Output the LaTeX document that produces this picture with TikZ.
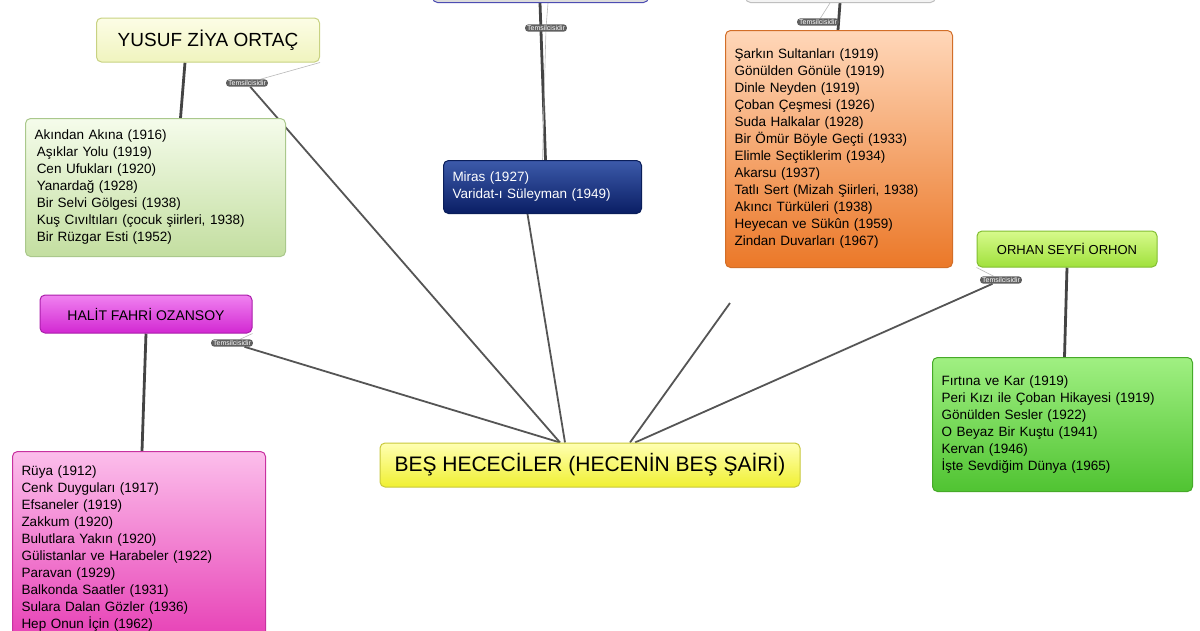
\documentclass[tikz,border=0pt]{standalone}
\usepackage{fontspec}
\setmainfont{Liberation Sans}
\usetikzlibrary{backgrounds}
\definecolor{conn}{HTML}{555555}
\definecolor{thk}{HTML}{444444}
\tikzset{
 box/.style={draw, rounded corners=5pt, line width=1pt, anchor=north west, align=left, inner xsep=9pt, inner ysep=8pt},
 works/.style={box, font=\fontsize{13.5}{17}\selectfont},
 poet/.style={box, align=center, anchor=center},
 conn/.style={draw=conn, line width=1.8pt},
 thk/.style={draw=thk, line width=2.8pt},
 faint/.style={draw=gray!55, line width=0.6pt},
 tag/.style={fill=gray!75!black, text=white, rounded corners=3pt, inner xsep=2pt, inner ysep=1pt, font=\fontsize{7}{8}\selectfont},
}
\begin{document}
\begin{tikzpicture}[x=1pt,y=-1pt]
\useasboundingbox (0,0) rectangle (1200,630);
\clip (0,0) rectangle (1200,630);
% cut-off top nodes
\node[box, minimum width=216pt, minimum height=30pt, top color=white, bottom color=gray!30, draw=gray!60!blue] (topc) at (432,-28) {};
\node[box, minimum width=190pt, minimum height=30pt, top color=white, bottom color=gray!10, draw=gray!50] (topr) at (745,-28) {};
% main
\node[poet, minimum width=420pt, minimum height=44pt, top color=yellow!30, bottom color={rgb,255:red,240;green,240;blue,50}, draw={rgb,255:red,200;green,200;blue,60}, font=\fontsize{21}{24}\selectfont] (main) at (590,465) {BEŞ HECECİLER (HECENİN BEŞ ŞAİRİ)};
% poets
\node[poet, minimum width=223pt, minimum height=44pt, top color={rgb,255:red,252;green,253;blue,230}, bottom color={rgb,255:red,240;green,244;blue,190}, draw={rgb,255:red,200;green,210;blue,130}, font=\fontsize{19}{22}\selectfont] (yusuf) at (208,40) {YUSUF ZİYA ORTAÇ};
\node[poet, minimum width=212pt, minimum height=38pt, top color={rgb,255:red,240;green,130;blue,240}, bottom color={rgb,255:red,210;green,40;blue,210}, draw={rgb,255:red,170;green,30;blue,170}, font=\fontsize{14}{17}\selectfont] (halit) at (146,314) {HALİT FAHRİ OZANSOY};
\node[poet, minimum width=180pt, minimum height=36pt, top color={rgb,255:red,215;green,250;blue,140}, bottom color={rgb,255:red,160;green,225;blue,60}, draw={rgb,255:red,130;green,190;blue,50}, font=\fontsize{13}{16}\selectfont] (orhan) at (1067,249) {ORHAN SEYFİ ORHON};
% works
\node[works, text width=242pt, minimum height=138pt, top color={rgb,255:red,245;green,252;blue,235}, bottom color={rgb,255:red,195;green,222;blue,160}, draw={rgb,255:red,170;green,200;blue,140}] (ywork) at (25,118) {Akından Akına (1916)\\ \,Aşıklar Yolu (1919)\\ \,Cen Ufukları (1920)\\ \,Yanardağ (1928)\\ \,Bir Selvi Gölgesi (1938)\\ \,Kuş Cıvıltıları (çocuk şiirleri, 1938)\\ \,Bir Rüzgar Esti (1952)};
\node[works, text width=235pt, minimum height=195pt, top color={rgb,255:red,252;green,190;blue,235}, bottom color={rgb,255:red,230;green,60;blue,180}, draw={rgb,255:red,200;green,50;blue,160}] (hwork) at (12,451) {Rüya (1912)\\Cenk Duyguları (1917)\\Efsaneler (1919)\\Zakkum (1920)\\Bulutlara Yakın (1920)\\Gülistanlar ve Harabeler (1922)\\Paravan (1929)\\Balkonda Saatler (1931)\\Sulara Dalan Gözler (1936)\\Hep Onun İçin (1962)\\ };
\node[works, text width=180pt, minimum height=53pt, top color={rgb,255:red,60;green,90;blue,170}, bottom color={rgb,255:red,10;green,30;blue,100}, draw={rgb,255:red,10;green,30;blue,90}, text=white] (miras) at (443,160) {Miras (1927)\\Varidat-ı Süleyman (1949)};
\node[works, text width=209pt, minimum height=237pt, top color={rgb,255:red,255;green,215;blue,185}, bottom color={rgb,255:red,235;green,120;blue,40}, draw={rgb,255:red,210;green,110;blue,40}] (orange) at (725,30) {Şarkın Sultanları (1919)\\Gönülden Gönüle (1919)\\Dinle Neyden (1919)\\Çoban Çeşmesi (1926)\\Suda Halkalar (1928)\\Bir Ömür Böyle Geçti (1933)\\Elimle Seçtiklerim (1934)\\Akarsu (1937)\\Tatlı Sert (Mizah Şiirleri, 1938)\\Akıncı Türküleri (1938)\\Heyecan ve Sükûn (1959)\\Zindan Duvarları (1967)\\[4pt]};
\node[works, text width=242pt, minimum height=134pt, top color={rgb,255:red,160;green,240;blue,130}, bottom color={rgb,255:red,80;green,195;blue,50}, draw={rgb,255:red,70;green,170;blue,40}] (owork) at (932,357) {Fırtına ve Kar (1919)\\Peri Kızı ile Çoban Hikayesi (1919)\\Gönülden Sesler (1922)\\O Beyaz Bir Kuştu (1941)\\Kervan (1946)\\İşte Sevdiğim Dünya (1965)\\[4pt]};
% tags
\node[tag] (t1) at (247,83) {Temsilcisidir};
\node[tag] (t2) at (232,343) {Temsilcisidir};
\node[tag] (t3) at (546,28) {Temsilcisidir};
\node[tag] (t4) at (818,22) {Temsilcisidir};
\node[tag] (t5) at (1001,280) {Temsilcisidir};
\begin{scope}[on background layer]
\fill[white] (0,0) rectangle (1200,630);
% thick poet-to-works
\path[thk] ([xshift=-23pt]yusuf.south) -- ([xshift=25pt]ywork.north);
\path[thk] (halit.south) -- ([xshift=3pt]hwork.north);
\path[thk] (orhan.south) -- ([xshift=2pt]owork.north);
\path[thk] ([xshift=108pt]topc.south west) -- ([xshift=3pt]miras.north);
\path[thk] ([xshift=95pt]topr.south west) -- ([xshift=113pt]orange.north west);
% main to poets
\path[conn] ([xshift=-25pt]main.north) -- ([xshift=-15pt]miras.south);
\path[conn] ([xshift=40pt]main.north) -- ([xshift=5pt,yshift=-35pt]orange.south west);
\path[conn] ([xshift=-30pt]main.north) -- (t1);
\path[conn] ([xshift=-30pt]main.north) -- (t2);
\path[conn] ([xshift=45pt]main.north) -- (t5);
% faint tag links
\path[faint] (t1) -- (yusuf.south east);
\path[faint] (t2) -- (halit.south east);
\path[faint] (t5) -- (orhan.south west);
\path[faint] (t3) -- ([xshift=116pt]topc.south west);
\path[faint] (t3) -- (miras.north);
\path[faint] (t4) -- ([xshift=85pt]topr.south west);
\end{scope}
\end{tikzpicture}
\end{document}
